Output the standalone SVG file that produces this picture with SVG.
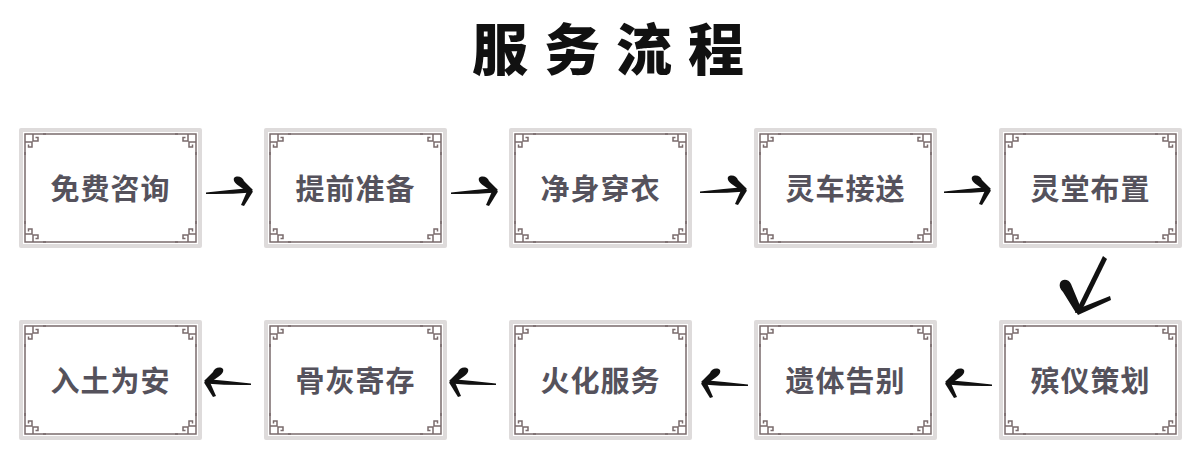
<svg xmlns="http://www.w3.org/2000/svg" xmlns:xlink="http://www.w3.org/1999/xlink" width="1200" height="468" viewBox="0 0 1200 468">
<style>
.lbl{font-family:"Noto Sans CJK SC","Noto Sans",sans-serif;font-weight:700;font-size:29px;fill:#55525c;text-anchor:middle;letter-spacing:1px}
.title{font-family:"Noto Sans CJK SC","Noto Sans",sans-serif;font-weight:900;font-size:56px;fill:#111;letter-spacing:16px}
.band{fill:#dedbdb}
.inner{fill:#fff}
.line{fill:none;stroke:#7a6b6c;stroke-width:1.5}
.orn{fill:none;stroke:#7a6b6c;stroke-width:1.5}
.ink{fill:#111}
</style>
<defs>
<g id="corner">
<rect x="4" y="4" width="20" height="20" fill="#fff"/>
<path class="orn" d="M27,6 H14 V13 H19 V9.5 H16.5 M6,27 V14 H13 V19 H9.5 V16.5 M6,14 V6 H14"/>
</g>
<g id="frame">
<rect class="band" x="0" y="0" width="183" height="120" rx="2"/>
<rect class="inner" x="4" y="4" width="175" height="112"/>
<rect class="line" x="6" y="6" width="171" height="108"/>
<use xlink:href="#corner"/>
<use xlink:href="#corner" transform="translate(183,0) scale(-1,1)"/>
<use xlink:href="#corner" transform="translate(0,120) scale(1,-1)"/>
<use xlink:href="#corner" transform="translate(183,120) scale(-1,-1)"/>
</g>
<g id="arrowR">
<path class="ink" d="M0,2.5 Q22,0 45,-2 L46,2.5 Q22,4.5 0,4 Z"/>
<path class="ink" d="M28,-12 C31,-15 37,-13 38,-9 L47,0 L43,3 L33,-4 C29,-7 27,-9 28,-12 Z"/>
<path class="ink" d="M42,-1 L47,1.5 L38,16 L35,15 Z"/>
</g>
</defs>

<text class="title" x="472" y="70">服务流程</text>

<g id="connectors">
<use xlink:href="#arrowR" transform="translate(206,190)"/>
<use xlink:href="#arrowR" transform="translate(451,190)"/>
<use xlink:href="#arrowR" transform="translate(700,189)"/>
<use xlink:href="#arrowR" transform="translate(944,189)"/>
<g id="downArrow">
<path class="ink" d="M1103,256 L1107,259 L1081,312 L1075,313 Z"/>
<path class="ink" d="M1060,283 C1062,278 1069,279 1071,284 L1081,308 L1076,313 L1063,292 C1060,289 1059,286 1060,283 Z"/>
<path class="ink" d="M1075,310 L1110,296 L1111,300 L1078,315 Z"/>
</g>
<use xlink:href="#arrowR" transform="translate(251,381) scale(-1,1)"/>
<use xlink:href="#arrowR" transform="translate(496,381) scale(-1,1)"/>
<use xlink:href="#arrowR" transform="translate(748,382) scale(-1,1)"/>
<use xlink:href="#arrowR" transform="translate(992,382) scale(-1,1)"/>
</g>

<g id="n1"><use xlink:href="#frame" x="19" y="128"/><text class="lbl" x="110.5" y="200">免费咨询</text></g>
<g id="n2"><use xlink:href="#frame" x="264" y="128"/><text class="lbl" x="355.5" y="200">提前准备</text></g>
<g id="n3"><use xlink:href="#frame" x="509" y="128"/><text class="lbl" x="600.5" y="200">净身穿衣</text></g>
<g id="n4"><use xlink:href="#frame" x="754" y="128"/><text class="lbl" x="845.5" y="200">灵车接送</text></g>
<g id="n5"><use xlink:href="#frame" x="999" y="128"/><text class="lbl" x="1090.5" y="200">灵堂布置</text></g>
<g id="n6"><use xlink:href="#frame" x="999" y="320"/><text class="lbl" x="1090.5" y="392">殡仪策划</text></g>
<g id="n7"><use xlink:href="#frame" x="754" y="320"/><text class="lbl" x="845.5" y="392">遗体告别</text></g>
<g id="n8"><use xlink:href="#frame" x="509" y="320"/><text class="lbl" x="600.5" y="392">火化服务</text></g>
<g id="n9"><use xlink:href="#frame" x="264" y="320"/><text class="lbl" x="355.5" y="392">骨灰寄存</text></g>
<g id="n10"><use xlink:href="#frame" x="19" y="320"/><text class="lbl" x="110.5" y="392">入土为安</text></g>
</svg>
